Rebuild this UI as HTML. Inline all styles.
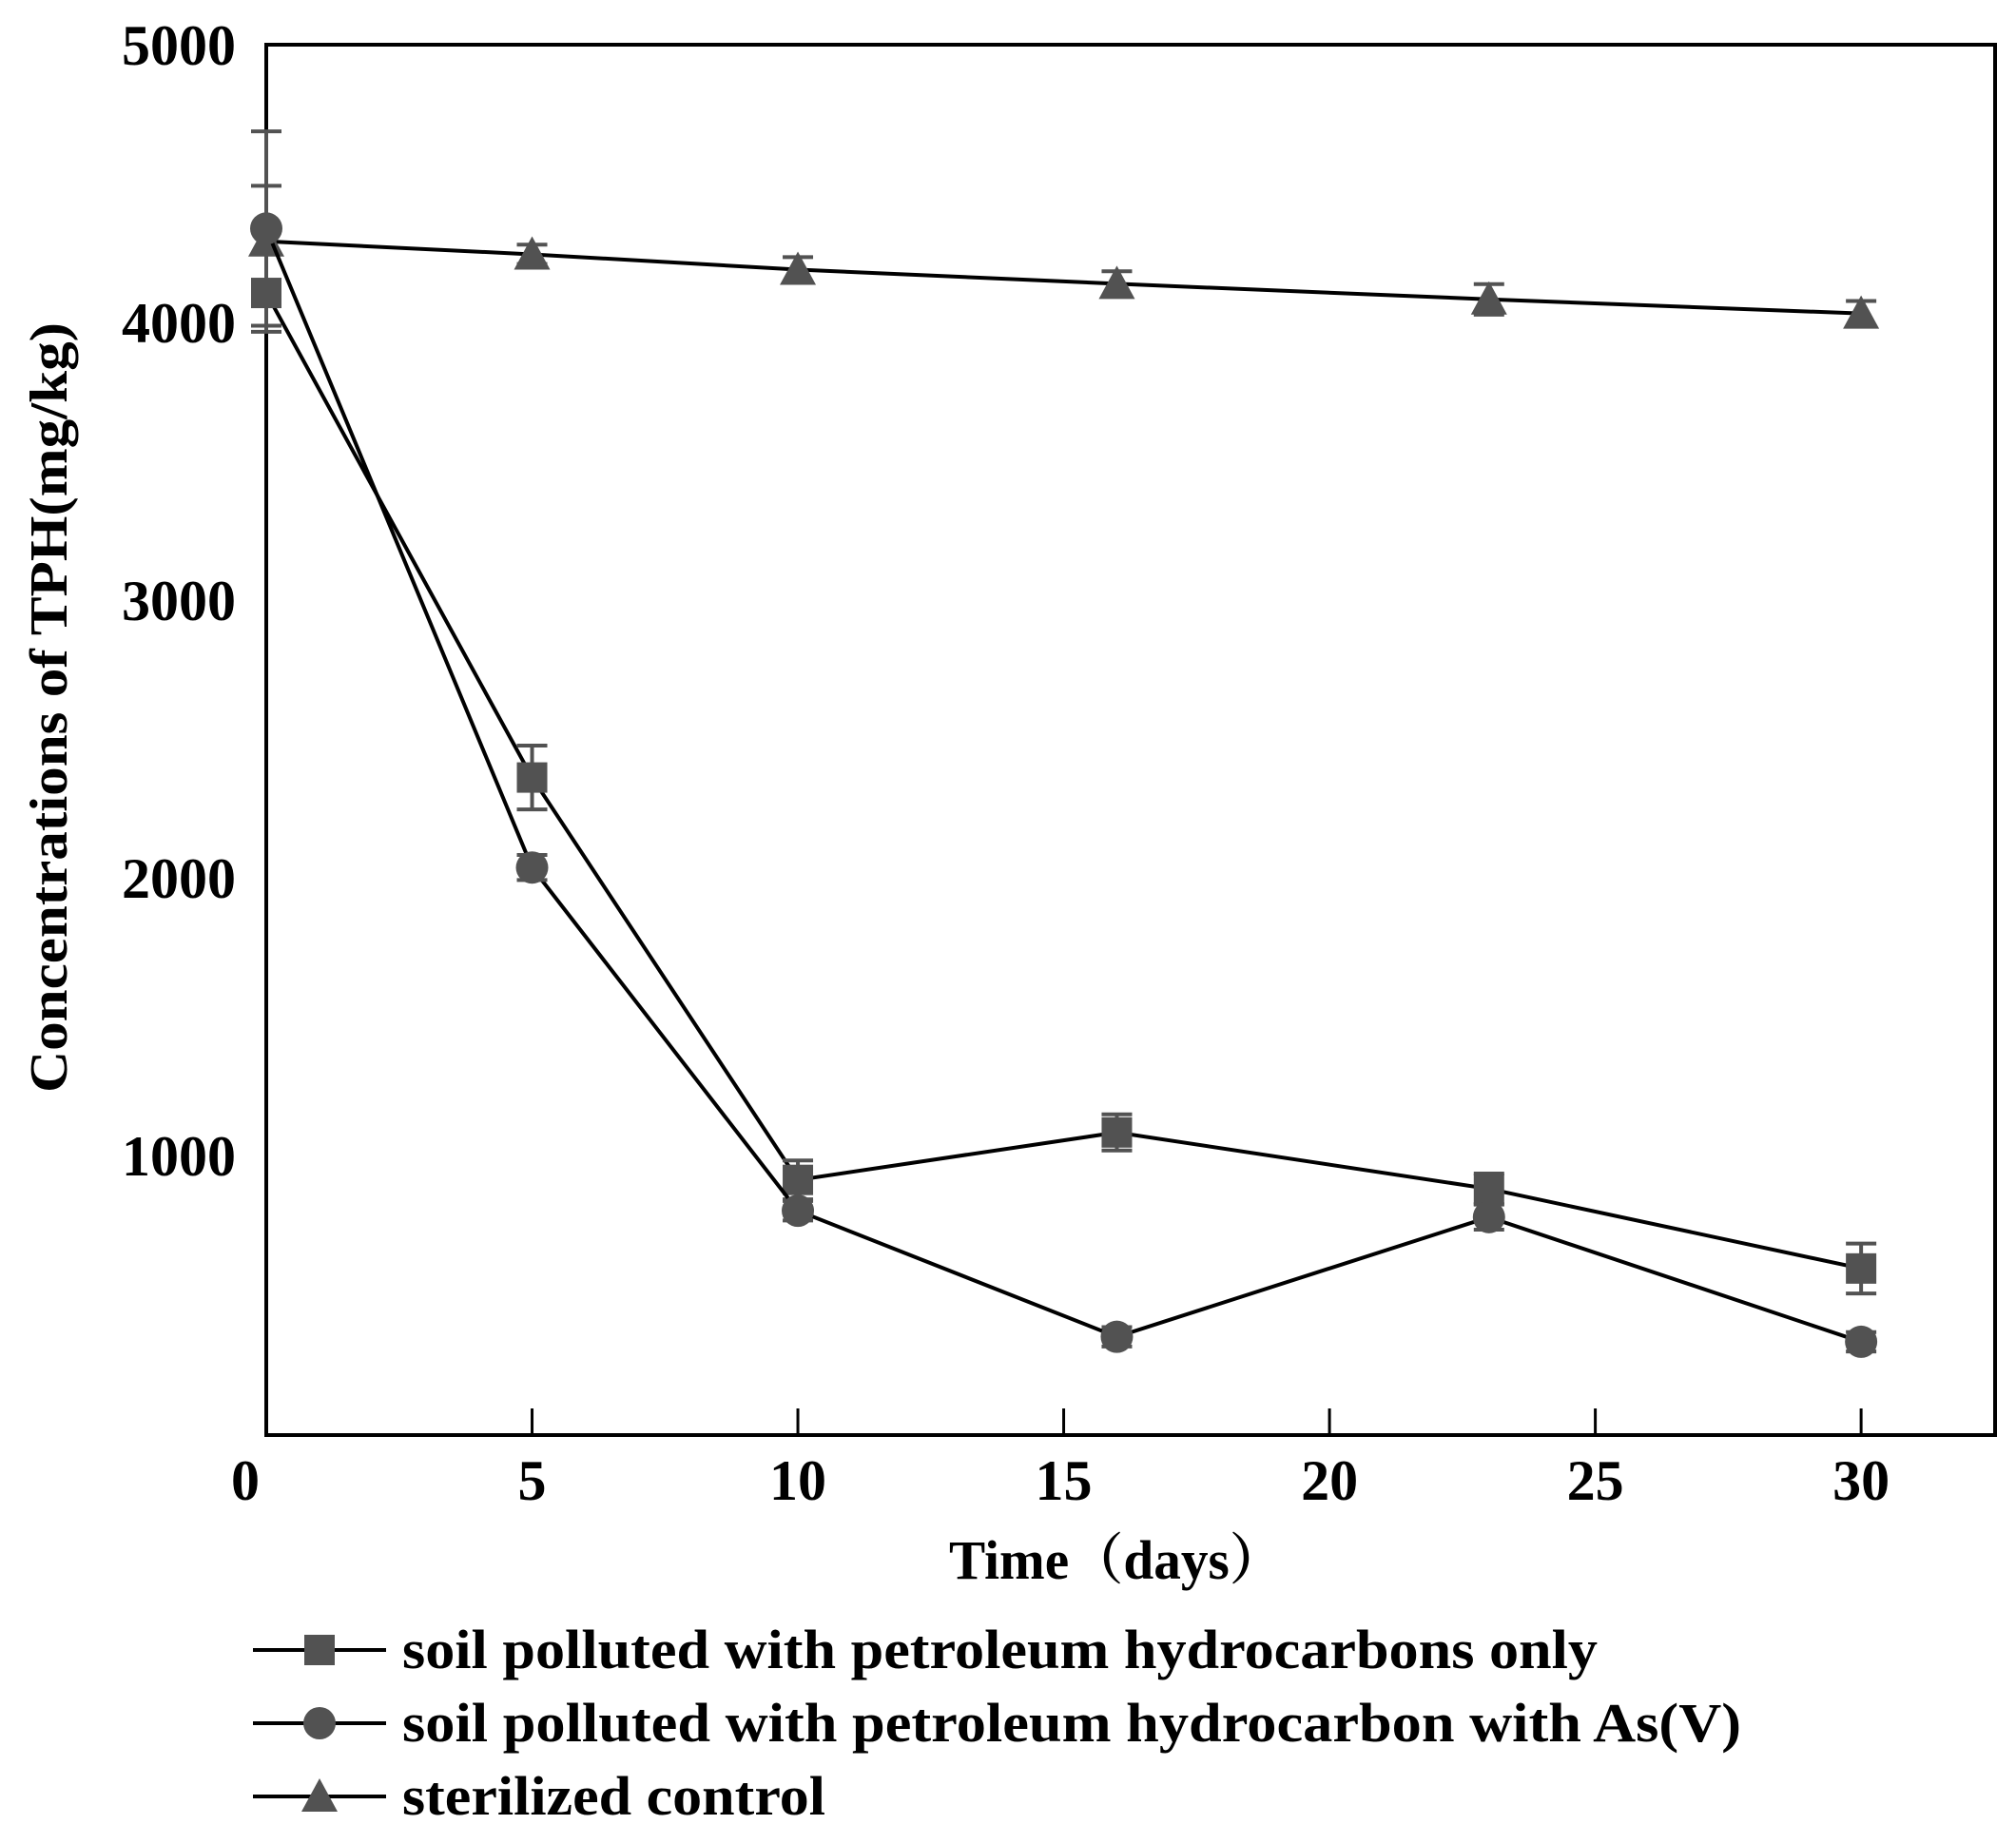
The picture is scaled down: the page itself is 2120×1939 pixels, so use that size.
<!DOCTYPE html>
<html><head><meta charset="utf-8"><style>
html,body{margin:0;padding:0;background:#fff}
svg{display:block}
text{font-family:"Liberation Serif","Noto Serif CJK SC",serif;font-weight:bold;fill:#000}
</style></head><body>
<svg id="chart" width="2120" height="1939" viewBox="0 0 2120 1939" xmlns="http://www.w3.org/2000/svg">
<g id="plot"></g>
</svg>
<script>
const days = [0, 5, 10, 16, 23, 30];
const squareVals = [4106, 2361, 912, 1083, 880, 593];
const squareErr = [140, 115, 70, 65, 55, 90];
const circleVals = [4338, 2037, 801, 347, 778, 329];
const circleErr = [350, 45, 35, 35, 45, 35];
const triVals = [4292, 4245, 4190, 4139, 4083, 4032];
const triErr = [200, 35, 45, 45, 55, 45];
const xTicks = [0, 5, 10, 15, 20, 25, 30];
const yTicks = [1000, 2000, 3000, 4000, 5000];

const L = 280, R = 2098, T = 47, B = 1509;
const X0 = 0, X1 = 32.52, Y0 = 0, Y1 = 5000;
const xs = v => L + (v - X0) / (X1 - X0) * (R - L);
const ys = v => 1507 - (v - Y0) / (Y1 - Y0) * (1507 - T);
const NS = 'http://www.w3.org/2000/svg';
const g = document.getElementById('plot');
const gray = '#525252';
function mk(tag, attrs, parent) {
  const e = document.createElementNS(NS, tag);
  for (const k in attrs) e.setAttribute(k, attrs[k]);
  (parent || g).appendChild(e);
  return e;
}

const frame = mk('rect', {x: L, y: T, width: R - L, height: B - T, fill: 'none', stroke: '#000', 'stroke-width': 4});



xTicks.forEach(t => {
  if (t > 0) {
    const tk = mk('line', {x1: xs(t), x2: xs(t), y1: B, y2: B - 28, stroke: '#000', 'stroke-width': 3});
    
    
  }
  const lb = mk('text', {x: t === 0 ? 258 : xs(t), y: 1577, 'font-size': 60, 'text-anchor': 'middle'});
  lb.textContent = t;
  
  
});
yTicks.forEach(t => {
  const lb = mk('text', {x: 248, y: ys(t) + 21, 'font-size': 60, 'text-anchor': 'end'});
  lb.textContent = t;
  
  
});

const xt = mk('text', {x: 1174, y: 1660, 'font-size': 58, 'text-anchor': 'middle', textLength: 352, lengthAdjust: 'spacingAndGlyphs'});
xt.textContent = 'Time（days）';


const yt = mk('text', {x: 0, y: 0, 'font-size': 56, 'text-anchor': 'middle', transform: 'translate(70,744) rotate(-90)', textLength: 810, lengthAdjust: 'spacingAndGlyphs'});
yt.textContent = 'Concentrations of TPH(mg/kg)';



function marker(type, cx, cy, parent, s) {
  s = s || 16;
  if (type === 'square') return mk('rect', {x: cx - s, y: cy - s, width: 2 * s, height: 2 * s, fill: gray}, parent);
  if (type === 'circle') return mk('circle', {cx: cx, cy: cy, r: s + 1, fill: gray}, parent);
  return mk('polygon', {points: `${cx},${cy - s - 3} ${cx + s + 3},${cy + s} ${cx - s - 3},${cy + s}`, fill: gray}, parent);
}

function series(name, vals, errs, type) {
  const sg = mk('g', {});
  
  
  const pts = days.map((d, i) => xs(d) + ',' + ys(vals[i])).join(' ');
  const ln = mk('polyline', {points: pts, fill: 'none', stroke: '#000', 'stroke-width': 4}, sg);
  
  
  days.forEach((d, i) => {
    const cx = xs(d), y1 = ys(vals[i] + errs[i]), y2 = ys(vals[i] - errs[i]);
    const eb = mk('path', {d: `M${cx},${y1}V${y2}M${cx - 16},${y1}H${cx + 16}M${cx - 16},${y2}H${cx + 16}`, stroke: gray, 'stroke-width': 4, fill: 'none'}, sg);
    
    
    const m = marker(type, cx, ys(vals[i]), sg);
    
    
  });
}
series('sterilized-series', triVals, triErr, 'tri');
series('petroleum-only-series', squareVals, squareErr, 'square');
series('petroleum-arsenic-series', circleVals, circleErr, 'circle');

const legendItems = [
  ['square', 'soil polluted with petroleum hydrocarbons only', 1257],
  ['circle', 'soil polluted with petroleum hydrocarbon with As(V)', 1408],
  ['tri', 'sterilized control', 445]
];
const lg = mk('g', {});


legendItems.forEach((it, i) => {
  const y = 1735 + i * 77;
  const e = mk('g', {}, lg);
  
  
  mk('line', {x1: 266, x2: 406, y1: y, y2: y, stroke: '#000', 'stroke-width': 4}, e);
  marker(it[0], 336, y, e, 16);
  const tx = mk('text', {x: 423, y: y + 19, 'font-size': 58, textLength: it[2], lengthAdjust: 'spacingAndGlyphs'}, e);
  tx.textContent = it[1];
});
</script>
</body></html>
